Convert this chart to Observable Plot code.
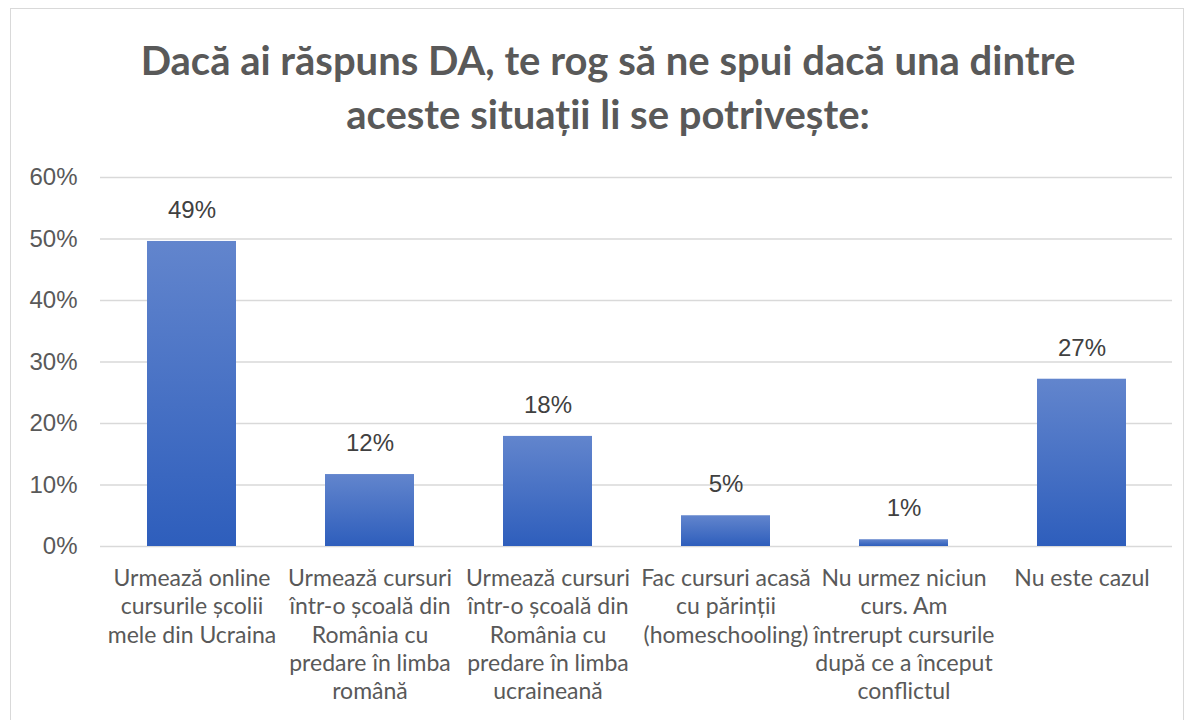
<!DOCTYPE html>
<html>
<head>
<meta charset="utf-8">
<script src="https://cdn.jsdelivr.net/npm/d3@7"></script>
<script src="https://cdn.jsdelivr.net/npm/@observablehq/plot@0.6"></script>
<style>
  html, body { margin: 0; padding: 0; background: #fff; }
  body { width: 1194px; height: 720px; position: relative; overflow: hidden; }
  #frame { position: absolute; left: 10px; top: 8px; width: 1174px; height: 730px; border: 1px solid #d9d9d9; box-sizing: border-box; }
  #title { position: absolute; left: 0; width: 1216px; top: 33px; text-align: center;
    font-family: Lato, "Open Sans", sans-serif; font-weight: 700; font-size: 40px; line-height: 54px; color: #595959; }
  #chart { position: absolute; left: 0; top: 150px; }
</style>
</head>
<body>
<div id="frame"></div>
<div id="title">Dacă ai răspuns DA, te rog să ne spui dacă una dintre<br>aceste situații li se potrivește:</div>
<div id="chart"></div>
<script>
const categories = [
  "Urmează online\ncursurile școlii\nmele din Ucraina",
  "Urmează cursuri\nîntr-o școală din\nRomânia cu\npredare în limba\nromână",
  "Urmează cursuri\nîntr-o școală din\nRomânia cu\npredare în limba\nucraineană",
  "Fac cursuri acasă\ncu părinții\n(homeschooling)",
  "Nu urmez niciun\ncurs. Am\nîntrerupt cursurile\ndupă ce a început\nconflictul",
  "Nu este cazul"
];
const values = [0.496, 0.117, 0.179, 0.05, 0.011, 0.272];
const valueLabels = ["49%", "12%", "18%", "5%", "1%", "27%"];
const yTicks = [0, 0.1, 0.2, 0.3, 0.4, 0.5, 0.6];

const data = categories.map((c, i) => ({cat: c, value: values[i], label: valueLabels[i]}));

const plot = Plot.plot({
  width: 1194,
  height: 570,
  marginTop: 27,
  marginBottom: 174,
  marginLeft: 100,
  marginRight: 22,
  style: {background: "transparent", overflow: "visible"},
  x: {domain: categories, paddingInner: 0.5, paddingOuter: 0.25, label: null},
  y: {domain: [0, 0.6], label: null},
  marks: [
    Plot.gridY(yTicks, {stroke: "#d9d9d9", strokeOpacity: 1, strokeWidth: 1.5}),
    Plot.axisY({ticks: yTicks, tickFormat: d => Math.round(d * 100) + "%", tickSize: 0, tickPadding: 23,
      fontSize: 24, fontFamily: "Liberation Sans, Arial, sans-serif", fill: "#595959", label: null}),
    Plot.barY(data, {x: "cat", y: "value", fill: "url(#barGrad)",
      style: "filter: drop-shadow(1px 1px 2px rgba(0,0,0,0.35))"}),
    Plot.axisX({tickSize: 0, tickPadding: 20, fontSize: 23, lineHeight: 1.22, fill: "#595959",
      fontFamily: "Lato, 'Open Sans', sans-serif", label: null}),
    Plot.text(data, {x: "cat", y: "value", text: "label", dy: -31, fontSize: 24,
      fontFamily: "Liberation Sans, Arial, sans-serif", fill: "#404040"})
  ]
});

const svgNS = "http://www.w3.org/2000/svg";
const defs = document.createElementNS(svgNS, "defs");
defs.innerHTML = `<linearGradient id="barGrad" x1="0" y1="0" x2="0" y2="1" gradientUnits="objectBoundingBox">
  <stop offset="0" stop-color="#6285cd"/><stop offset="1" stop-color="#2e5ebc"/></linearGradient>`;
plot.insertBefore(defs, plot.firstChild);
document.getElementById("chart").appendChild(plot);
</script>
</body>
</html>
